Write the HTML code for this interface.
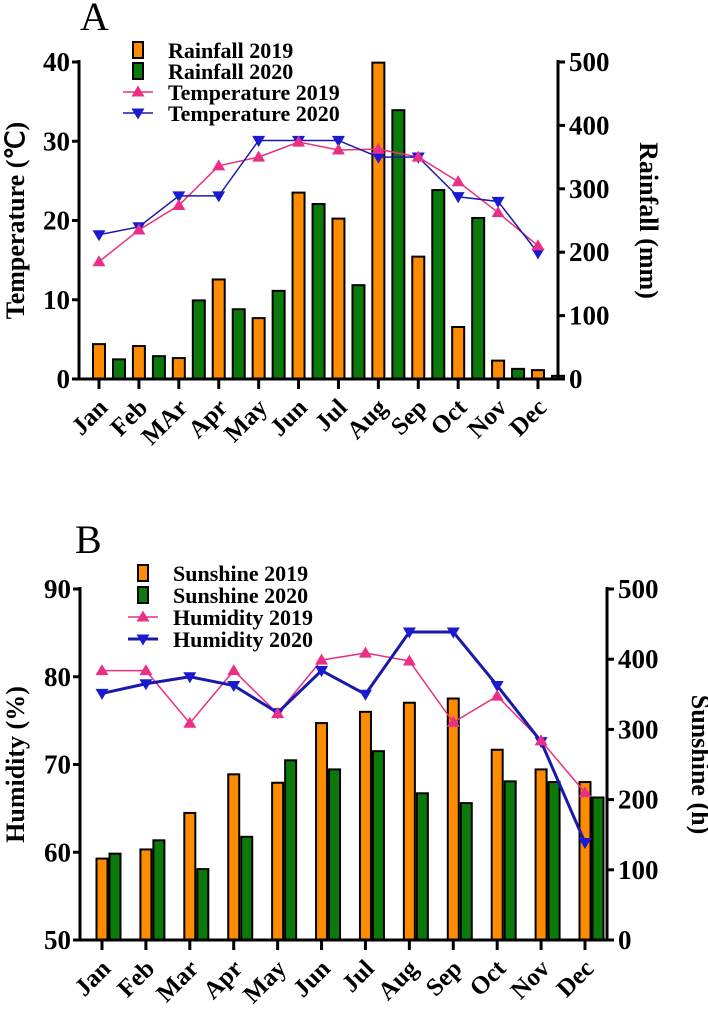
<!DOCTYPE html>
<html><head><meta charset="utf-8"><style>
body{margin:0;background:#fff}
svg{display:block;font-family:"Liberation Serif",serif;font-weight:bold}
</style></head><body>
<svg id="s" width="708" height="1018" viewBox="0 0 708 1018" xmlns="http://www.w3.org/2000/svg"></svg>
<script>
const monthsA=["Jan","Feb","MAr","Apr","May","Jun","Jul","Aug","Sep","Oct","Nov","Dec"];
const monthsB=["Jan","Feb","Mar","Apr","May","Jun","Jul","Aug","Sep","Oct","Nov","Dec"];
const rain2019=[55,52,33,157,96,294,253,499,193,82,29,14];
const rain2020=[31,36,124,110,139,276,148,424,298,254,16,5];
const temp2019=[14.8,18.8,21.9,26.9,28,29.9,28.9,29,28,24.9,21,16.8];
const temp2020=[18.2,19.2,23.1,23.1,30.1,30.1,30.1,28,28,23,22.4,15.9];
const sun2019=[116,129,181,236,224,309,325,338,344,271,243,225];
const sun2020=[123,142,101,147,256,243,269,209,195,226,225,203];
const hum2019=[80.7,80.7,74.7,80.7,75.8,81.9,82.7,81.8,74.8,77.8,72.7,66.8];
const hum2020=[78.1,79.2,80,79,75.9,80.7,78,85.1,85.1,79,72.6,61.1];
const ticksTemp=[0,10,20,30,40];
const ticksRain=[0,100,200,300,400,500];
const ticksHum=[50,60,70,80,90];
const ticksSun=[0,100,200,300,400,500];

const S=document.getElementById('s');const NS="http://www.w3.org/2000/svg";
function el(t,a,p){const e=document.createElementNS(NS,t);for(const k in a)e.setAttribute(k,a[k]);(p||S).appendChild(e);return e;}
function txt(x,y,s,size,anchor,tr,p){const e=el('text',{x:x,y:y,'font-size':size,'text-anchor':anchor||'middle'},p);if(tr)e.setAttribute('transform',tr);e.textContent=s;return e;}
function tri(g,x,y,up,col){const h=6.5;const pts=up?`${x},${y-h} ${x-h},${y+h*0.7} ${x+h},${y+h*0.7}`:`${x},${y+h} ${x-h},${y-h*0.7} ${x+h},${y-h*0.7}`;return el('polygon',{points:pts,fill:col},g);}

function panel(o){
  const g=el('g',{});
  
  
  const yL=v=>o.y0-(v-o.lmin)/(o.lmax-o.lmin)*(o.y0-o.y1);
  const yR=v=>o.y0-v/o.rmax*(o.y0-o.y1);
  const xT=i=>o.xJan+i*(o.xDec-o.xJan)/11;
  o.b1.forEach((v,i)=>{const r=el('rect',{x:xT(i)+o.off1-o.bw/2,y:yR(v),width:o.bw,height:o.y0-yR(v),fill:'#ff8c00',stroke:'#000','stroke-width':2},g);
    
    });
  o.b2.forEach((v,i)=>{const r=el('rect',{x:xT(i)+o.off2-o.bw/2,y:yR(v),width:o.bw,height:o.y0-yR(v),fill:'#0b7a0b',stroke:'#000','stroke-width':2},g);
    
    });
  const l1=el('polyline',{points:o.l1.map((v,i)=>xT(i)+','+yL(v)).join(' '),fill:'none',stroke:'#e8307f','stroke-width':1.5},g);
  
  
  const l2=el('polyline',{points:o.l2.map((v,i)=>xT(i)+','+yL(v)).join(' '),fill:'none',stroke:'#1a1aaa','stroke-width':o.l2w},g);
  
  
  o.l2.forEach((v,i)=>{const m=tri(g,xT(i),yL(v),false,'#1a1ad0');});
  o.l1.forEach((v,i)=>{const m=tri(g,xT(i),yL(v),true,'#ec2f86');});
  el('line',{x1:o.xl,y1:o.y1-2,x2:o.xl,y2:o.y0+1.5,stroke:'#000','stroke-width':3},g);
  el('line',{x1:o.xr,y1:o.y1-2,x2:o.xr,y2:o.y0+1.5,stroke:'#000','stroke-width':3},g);
  el('line',{x1:o.xl,y1:o.y0,x2:o.xr,y2:o.y0,stroke:'#000','stroke-width':3},g);
  o.lt.forEach(v=>{el('line',{x1:o.xl-7,y1:yL(v),x2:o.xl,y2:yL(v),stroke:'#000','stroke-width':3},g);txt(o.xl-9,yL(v)+9,v,27,'end',null,g);});
  o.rt.forEach(v=>{el('line',{x1:o.xr,y1:yR(v),x2:o.xr+7,y2:yR(v),stroke:'#000','stroke-width':3},g);txt(o.xr+11,yR(v)+9,v,27,'start',null,g);});
  o.cats.forEach((c,i)=>{const x=xT(i);el('line',{x1:x,y1:o.y0,x2:x,y2:o.y0+10,stroke:'#000','stroke-width':3},g);
    txt(x+10,o.y0+30,c,25,'end',`rotate(-45 ${x+10} ${o.y0+30})`,g);});
  txt(0,0,o.lTitle,26,'middle',`translate(${o.ltx} ${(o.y0+o.y1)/2}) rotate(-90)`,g);
  txt(0,0,o.rTitle,26,'middle',`translate(${o.rtx} ${(o.y0+o.y1)/2}) rotate(90)`,g);
  txt(o.lx,o.ly,o.letter,40,'start',null,g).setAttribute('font-weight','normal');
  const lg=el('g',{},g);
  
  
  o.leg.forEach((t,k)=>{const y=o.legY+k*o.legDy,x=o.legX;
    if(k==0)el('rect',{x:x-5,y:y-8,width:10,height:16,fill:'#ff8c00',stroke:'#000','stroke-width':2},lg);
    if(k==1)el('rect',{x:x-5,y:y-8,width:10,height:16,fill:'#0b7a0b',stroke:'#000','stroke-width':2},lg);
    if(k==2){el('line',{x1:x-15,y1:y,x2:x+15,y2:y,stroke:'#e8307f','stroke-width':1.5},lg);tri(lg,x,y,true,'#ec2f86');}
    if(k==3){el('line',{x1:x-15,y1:y,x2:x+15,y2:y,stroke:'#1a1aaa','stroke-width':o.l2w},lg);tri(lg,x,y,false,'#1a1ad0');}
    txt(o.legTx,y+8,t,22,'start',null,lg);});
}
panel({name:'panel-a',letter:'A',lx:80,ly:30,y0:379,y1:62,xl:79,xr:558,xJan:99,xDec:538,off1:0,off2:20,bw:12,
  lmin:0,lmax:40,rmax:500,b1:rain2019,b2:rain2020,l1:temp2019,l2:temp2020,b1name:'rainfall-2019',b2name:'rainfall-2020',l1name:'temperature-2019',l2name:'temperature-2020',l2w:1.5,
  lt:ticksTemp,rt:ticksRain,cats:monthsA,lTitle:'Temperature (℃)',rTitle:'Rainfall (mm)',ltx:24,rtx:640,
  leg:['Rainfall 2019','Rainfall 2020','Temperature 2019','Temperature 2020'],legX:138,legTx:168,legY:50,legDy:21});
panel({name:'panel-b',letter:'B',lx:75,ly:553,y0:940,y1:589,xl:80,xr:607,xJan:102,xDec:585,off1:0,off2:13,bw:11,
  lmin:50,lmax:90,rmax:500,b1:sun2019,b2:sun2020,l1:hum2019,l2:hum2020,b1name:'sunshine-2019',b2name:'sunshine-2020',l1name:'humidity-2019',l2name:'humidity-2020',l2w:3,
  lt:ticksHum,rt:ticksSun,cats:monthsB,lTitle:'Humidity (%)',rTitle:'Sunshine (h)',ltx:24,rtx:692,
  leg:['Sunshine 2019','Sunshine 2020','Humidity 2019','Humidity 2020'],legX:143,legTx:173,legY:573,legDy:22});
</script>
</body></html>
